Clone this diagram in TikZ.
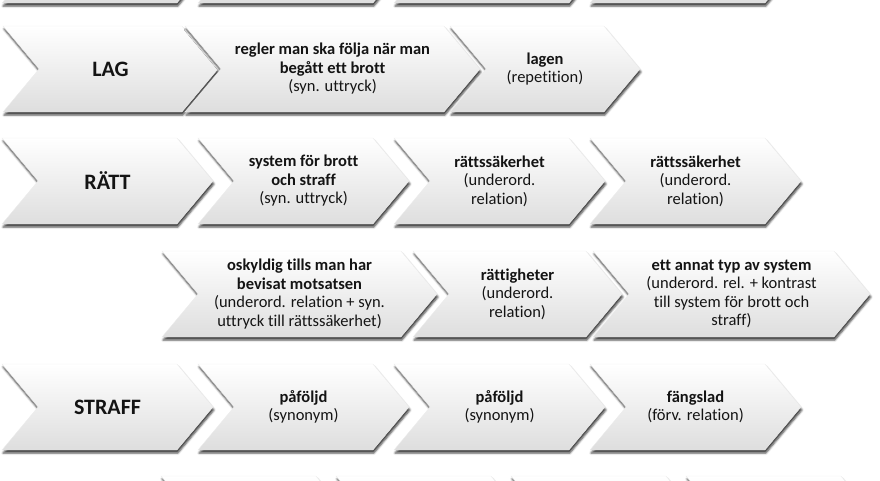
\documentclass[tikz,border=0pt]{standalone}
\usepackage{fontspec}
\setmainfont{Carlito}[Ligatures=NoCommon]
\usepackage{tikz}
\usetikzlibrary{shapes.symbols,shadows.blur}

\tikzset{
  chev/.style={signal, signal from=west, signal to=east, signal pointer angle=100,
    minimum height=86pt, inner sep=0pt, draw=gray!15, top color=white, middle color=gray!4, bottom color=gray!26,
    blur shadow={shadow xshift=1pt, shadow yshift=-3pt, shadow blur radius=2pt, shadow opacity=75},
    align=center, text=black!92, font=\fontsize{16.5}{18.5}\selectfont},
  head/.style={chev, font=\fontsize{22}{24}\selectfont\bfseries}
}

\begin{document}
\begin{tikzpicture}[x=1pt,y=-1pt]
  \useasboundingbox (0,0) rectangle (880,480);
  \clip (0,0) rectangle (880,480);
  % rad 0, utanfor bilden
  \foreach \x [count=\i] in {2,198,394,590}
    \node[chev, minimum width=211pt] (rad0\i) at ({\x+105.5},-40) {};
  % LAG
  \node[head, minimum width=215pt] (lag) at (110.5,69) {LAG};
  \node[chev, minimum width=295pt] (regler) at (332.5,69)
    {\textbf{regler man ska följa när man}\\\textbf{begått ett brott}\\(syn. uttryck)};
  \node[chev, minimum width=190pt] (lagen) at (545,69) {\textbf{lagen}\\(repetition)};
  % RATT
  \node[head, minimum width=211pt] (ratt) at (107.5,181) {RÄTT};
  \node[chev, minimum width=211pt] (system) at (303.5,181)
    {\textbf{system för brott}\\\textbf{och straff}\\(syn. uttryck)};
  \node[chev, minimum width=211pt] (rs1) at (499.5,181) {\textbf{rättssäkerhet}\\(underord.\\relation)};
  \node[chev, minimum width=211pt] (rs2) at (695.5,181) {\textbf{rättssäkerhet}\\(underord.\\relation)};
  \node[chev, minimum width=275pt] (oskyldig) at (299.5,294)
    {\textbf{oskyldig tills man har}\\\textbf{bevisat motsatsen}\\(underord. relation + syn.\\uttryck till rättssäkerhet)};
  \node[chev, minimum width=209pt] (rattigheter) at (517.5,294) {\textbf{rättigheter}\\(underord.\\relation)};
  \node[chev, minimum width=277pt] (annat) at (731.5,294)
    {\textbf{ett annat typ av system}\\(underord. rel. + kontrast\\till system för brott och\\straff)};
  % STRAFF
  \node[head, minimum width=211pt] (straff) at (107.5,407) {STRAFF};
  \node[chev, minimum width=211pt] (pafoljd1) at (303.5,407) {\textbf{påföljd}\\(synonym)};
  \node[chev, minimum width=211pt] (pafoljd2) at (499.5,407) {\textbf{påföljd}\\(synonym)};
  \node[chev, minimum width=211pt] (fangslad) at (695.5,407) {\textbf{fängslad}\\(förv. relation)};
  % sista raden, nedanfor bilden
  \foreach \x [count=\i] in {161,336,511,686}
    \node[chev, minimum width=191pt] (rad5\i) at ({\x+95.5},519) {};
\end{tikzpicture}
\end{document}
